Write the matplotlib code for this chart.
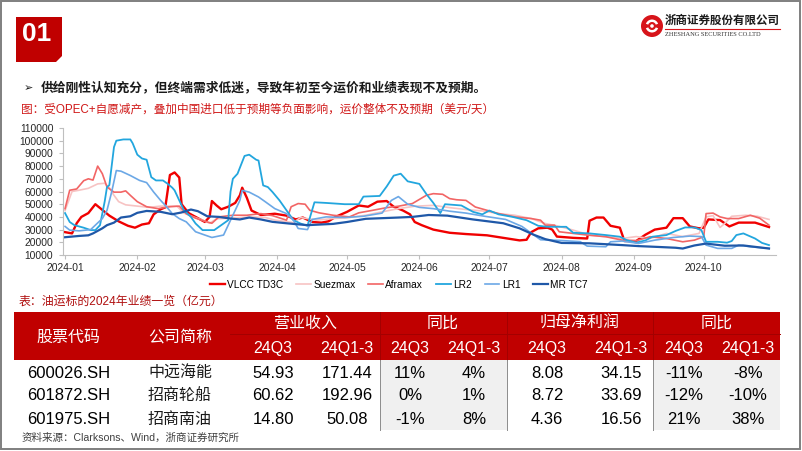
import numpy as np
import pandas as pd
import matplotlib
matplotlib.use('Agg')
import matplotlib.pyplot as plt
from matplotlib.patches import Rectangle, Polygon, Circle, Wedge

plt.rcParams['font.family'] = ['Liberation Sans', 'Noto Sans CJK SC', 'DejaVu Sans']

# ---------------- data (day offset from 2024-01-01, USD/day) ----------------
vlcc_day = [0, 3, 5, 7, 10, 13, 16, 19, 23, 27, 30, 33, 36, 38, 41, 43, 45, 47, 49, 50, 53, 57, 60, 62, 63, 65, 67, 70,
            73, 75, 76, 78, 80, 84, 90, 95, 99, 102, 106, 110, 113, 116, 121, 126, 130, 134, 138, 141, 145, 148, 150,
            153, 158, 165, 172, 181, 188, 195, 198, 200, 203, 207, 209, 211, 218, 224, 225, 228, 231, 234, 238, 240,
            245, 249, 253, 258, 261, 265, 268, 272, 274, 276, 281, 285, 289, 296, 302]
vlcc = [28000, 27000, 35000, 40000, 43000, 50000, 45500, 41000, 36500, 33000, 31500, 34000, 35000, 42000, 46000,
        47500, 73000, 75000, 71000, 50000, 43000, 39000, 36000, 40000, 52500, 49000, 46000, 48000, 51000, 57000,
        63000, 55000, 45000, 41500, 42500, 41000, 38000, 39500, 36000, 35500, 36500, 40000, 44000, 49000, 48000,
        52000, 52500, 48000, 45000, 42000, 36000, 33500, 30000, 27500, 26500, 25500, 23500, 21500, 22000, 28000,
        31000, 31500, 30000, 24500, 23500, 23000, 37000, 39500, 39500, 33000, 31500, 21000, 21000, 26000, 30000,
        31500, 39000, 39000, 32500, 31000, 31500, 38000, 37500, 32500, 35500, 35500, 32000]

suez_day = [0, 3, 6, 10, 14, 17, 19, 21, 23, 26, 31, 36, 41, 48, 51, 55, 59, 62, 65, 72, 80, 86, 90, 98, 101, 108,
            115, 122, 129, 136, 143, 150, 158, 165, 172, 179, 186, 193, 200, 206, 211, 218, 225, 232, 239, 245, 251,
            258, 265, 272, 275, 278, 281, 283, 286, 292, 297, 302]
suez = [45000, 60000, 61000, 62500, 66000, 66500, 63000, 57000, 52000, 49500, 48500, 47500, 48500, 48500, 43000,
        40000, 37500, 35000, 38500, 39000, 40000, 39500, 37500, 35500, 39500, 37500, 38700, 39500, 41300, 44000,
        46500, 48400, 49100, 47300, 45800, 44700, 42600, 41300, 38700, 34800, 33000, 29600, 25700, 24400, 23000,
        24500, 23000, 27000, 24500, 27000, 40000, 41000, 31700, 34800, 40500, 41300, 40500, 38000]

afra_day = [0, 2, 5, 8, 10, 12, 14, 16, 18, 21, 24, 26, 28, 31, 35, 40, 45, 49, 52, 56, 61, 63, 66, 72, 78, 84, 89,
            95, 97, 100, 103, 105, 109, 115, 122, 126, 132, 138, 143, 149, 155, 158, 162, 165, 168, 172, 176, 181,
            186, 193, 200, 204, 206, 210, 212, 218, 224, 232, 239, 245, 251, 258, 265, 270, 274, 275, 278, 281, 284,
            289, 294, 298, 302]
afra = [46500, 61000, 62000, 68500, 70000, 69000, 80000, 74000, 63500, 59500, 59500, 60500, 57000, 52000, 48000,
        46500, 48000, 48500, 42500, 39000, 36000, 35000, 40000, 41300, 41300, 42600, 41000, 37400, 48000, 50500,
        50000, 45200, 43200, 41300, 40000, 43200, 45200, 47300, 48400, 50500, 57000, 58300, 57800, 54400, 53500,
        53000, 47800, 45200, 42600, 40000, 38700, 37400, 33500, 33500, 28300, 27000, 25700, 24400, 21700, 21200,
        24400, 23000, 20400, 21700, 24400, 42600, 43000, 40000, 38700, 38700, 41300, 39000, 33500]

lr2_day = [0, 2, 4, 8, 11, 13, 15, 17, 18, 19, 21, 22, 25, 28, 29, 31, 33, 35, 37, 39, 42, 44, 46, 47, 49, 51, 54,
           56, 59, 64, 66, 68, 70, 71, 72, 74, 77, 79, 82, 83, 85, 87, 89, 92, 95, 98, 101, 104, 107, 112, 120, 126,
           128, 135, 138, 141, 144, 147, 152, 155, 158, 161, 163, 170, 175, 179, 182, 186, 192, 198, 203, 207, 215,
           218, 225, 232, 238, 241, 245, 249, 252, 258, 262, 266, 270, 273, 275, 280, 284, 286, 288, 291, 296, 299,
           302]
lr2 = [43000, 36000, 33500, 31500, 29600, 29600, 33500, 52000, 63500, 65000, 95000, 100000, 101000, 101000, 98000,
       89000, 86000, 85000, 71300, 68700, 68700, 66100, 63000, 60900, 53000, 45200, 40000, 34800, 29600, 29600,
       32200, 34800, 37400, 60000, 70000, 74000, 88000, 89000, 85000, 84400, 64800, 63500, 59600, 53000, 45200,
       37400, 34800, 33000, 51500, 51000, 50000, 50000, 56000, 56500, 64000, 72500, 74000, 68000, 66000, 58000,
       51000, 43000, 50000, 49000, 44000, 42000, 45000, 42000, 40000, 37400, 33000, 32200, 32200, 27500, 27000,
       25700, 24400, 21700, 19700, 21500, 24400, 25700, 29000, 31700, 31700, 29600, 20400, 20400, 19700, 21000,
       25700, 27000, 23000, 19500, 17800]

lr1_day = [0, 2, 6, 11, 13, 16, 18, 20, 22, 24, 28, 32, 35, 38, 41, 43, 46, 49, 52, 56, 60, 63, 68, 69, 71, 75, 76,
           79, 83, 86, 90, 95, 98, 100, 104, 106, 112, 120, 128, 136, 140, 143, 147, 152, 158, 165, 172, 180, 189,
           196, 204, 212, 221, 224, 232, 234, 239, 246, 253, 261, 268, 273, 275, 280, 286, 289, 294, 302]
lr1 = [32500, 29600, 29000, 30000, 33500, 38700, 45200, 59600, 76500, 76000, 72600, 68700, 67000, 59600, 53000,
       49100, 42600, 38700, 36100, 28300, 25700, 23800, 25700, 29600, 37400, 53000, 60900, 59500, 55700, 51800,
       46500, 42600, 37400, 30900, 30000, 38000, 40000, 39500, 40500, 43000, 53000, 56000, 50000, 47500, 46500,
       44500, 43000, 40500, 38000, 32500, 22000, 21500, 20500, 17000, 16500, 20400, 21000, 19100, 21700, 23800,
       24900, 24500, 17800, 15200, 15200, 17800, 16500, 15200]

mr_day = [0, 6, 10, 12, 14, 16, 18, 21, 24, 28, 31, 35, 41, 46, 50, 54, 57, 61, 66, 71, 75, 79, 84, 89, 96, 104,
          115, 121, 129, 143, 149, 156, 164, 175, 188, 195, 201, 206, 213, 225, 239, 246, 255, 262, 265, 270, 275,
          283, 291, 302]
mr = [24000, 25000, 25500, 27000, 29000, 31000, 33500, 35500, 39500, 40500, 43200, 44700, 44000, 42100, 43500,
      45800, 44500, 40500, 40000, 38700, 38000, 39500, 38000, 36100, 34800, 33500, 34500, 36000, 38500, 39500,
      40000, 41500, 41000, 38000, 35000, 31000, 26000, 22500, 19500, 19200, 17800, 17000, 16300, 15700, 15100,
      17500, 19000, 17300, 17500, 15100]

series_names = ['VLCC TD3C', 'Suezmax', 'Aframax', 'LR2', 'LR1', 'MR TC7']
series_days = [vlcc_day, suez_day, afra_day, lr2_day, lr1_day, mr_day]
series_vals = [vlcc, suez, afra, lr2, lr1, mr]
series_colors = ['#F00000', '#F7C3C3', '#F26565', '#22A6DE', '#6CA8E6', '#1F58A8']
series_lw = [1.7, 1.2, 1.2, 1.3, 1.2, 1.6]

month_ticks = ['2024-01', '2024-02', '2024-03', '2024-04', '2024-05',
               '2024-06', '2024-07', '2024-08', '2024-09', '2024-10']

# table data
codes = ['600026.SH', '601872.SH', '601975.SH']
names = ['中远海能', '招商轮船', '招商南油']
rev_q3 = [54.93, 60.62, 14.80]
rev_ytd = [171.44, 192.96, 50.08]
rev_yoy_q3 = [11, 0, -1]
rev_yoy_ytd = [4, 1, 8]
np_q3 = [8.08, 8.72, 4.36]
np_ytd = [34.15, 33.69, 16.56]
np_yoy_q3 = [-11, -12, 21]
np_yoy_ytd = [-8, -10, 38]
group_headers = ['营业收入', '同比', '归母净利润', '同比']
sub_headers = ['24Q3', '24Q1-3'] * 4

# ---------------- figure ----------------
W, H = 802, 451
fig = plt.figure(figsize=(W / 100, H / 100), dpi=100)
bg = fig.add_axes([0, 0, 1, 1])
bg.set_xlim(0, W)
bg.set_ylim(H, 0)
bg.axis('off')

# slide border
bg.add_patch(Rectangle((0.8, 0.8), W - 2.6, H - 2.6, fill=False, ec='#7F7F7F', lw=1.4))

# "01" box
bg.add_patch(Polygon([(16, 17), (62, 17), (62, 56), (56, 62), (16, 62)], closed=True, fc='#C00000', ec='none'))
bg.text(37, 34, '01', color='white', fontsize=19, fontweight='bold', ha='center', va='center')

# logo
bg.add_patch(Circle((652, 26), 11, fc='#D7141A', ec='none'))
bg.add_patch(Wedge((652, 26), 6.5, 200, 340, width=2.5, fc='white', ec='none'))
bg.add_patch(Wedge((652, 26), 6.5, 20, 160, width=2.5, fc='white', ec='none'))
bg.add_patch(Circle((652, 26), 1.8, fc='white', ec='none'))
bg.text(665, 20, '浙商证券股份有限公司', fontsize=8.3, fontweight='bold', color='#1a1a1a', ha='left', va='center',
        family=['Noto Sans CJK SC'])
bg.plot([665, 780], [28.5, 28.5], color='#D7141A', lw=0.8)
bg.text(665, 34, 'ZHESHANG SECURITIES CO.LTD', fontsize=4.6, color='#333333', ha='left', va='center',
        family=['Liberation Serif'])

# bullet line
bg.text(24, 88, '➢', fontsize=8, color='#1a1a1a', ha='left', va='center', family=['DejaVu Sans'])
bg.text(41, 88, '供给刚性认知充分，但终端需求低迷，导致年初至今运价和业绩表现不及预期。',
        fontsize=9.2, fontweight='bold', color='#1a1a1a', ha='left', va='center')
bg.text(21, 110, '图：受OPEC+自愿减产，叠加中国进口低于预期等负面影响，运价整体不及预期（美元/天）',
        fontsize=8.4, color='#D01818', ha='left', va='center')

# ---------------- chart ----------------
ax = fig.add_axes([63 / W, 1 - 255 / H, 713 / W, 127 / H])
start = pd.Timestamp('2024-01-01')
handles = []
for nm, dd, vv, cc, lw in zip(series_names, series_days, series_vals, series_colors, series_lw):
    x = start + pd.to_timedelta(dd, unit='D')
    h, = ax.plot(x, vv, color=cc, lw=lw, label=nm, solid_joinstyle='round')
    handles.append(h)

ax.set_xlim(start - pd.Timedelta(hours=21), start + pd.Timedelta(days=305))
ax.set_ylim(10000, 110000)
ax.set_yticks(np.arange(10000, 110001, 10000))
ax.set_yticklabels([str(v) for v in range(10000, 110001, 10000)])
ax.set_xticks(pd.to_datetime([m + '-01' for m in month_ticks]))
ax.set_xticklabels(month_ticks)
for s in ['top', 'right']:
    ax.spines[s].set_visible(False)
for s in ['left', 'bottom']:
    ax.spines[s].set_color('#BFBFBF')
    ax.spines[s].set_linewidth(0.8)
ax.tick_params(axis='both', colors='#BFBFBF', length=3, width=0.8, labelsize=7.4, labelcolor='#262626')
ax.tick_params(axis='y', pad=4)
ax.tick_params(axis='x', pad=3)
ax.patch.set_alpha(0)

leg = ax.legend(handles=handles, loc='center', bbox_to_anchor=(399 / W, 1 - 285 / H),
                bbox_transform=fig.transFigure, ncol=6, frameon=False, fontsize=7.3,
                handlelength=1.45, handletextpad=0.25, columnspacing=1.25)

# ---------------- table ----------------
bg.text(19, 302, '表：油运标的2024年业绩一览（亿元）', fontsize=8.6, color='#B01010', ha='left', va='center')

tx0, tx1 = 14, 780
hy0, hy1, hmid = 312, 360, 334
ty1 = 430
bg.add_patch(Rectangle((tx0, hy0), tx1 - tx0, hy1 - hy0, fc='#C00000', ec='none'))
# shaded yoy columns
bg.add_patch(Rectangle((380, hy1), 507 - 380, ty1 - hy1, fc='#F0F0F0', ec='none'))
bg.add_patch(Rectangle((653, hy1), tx1 - 653, ty1 - hy1, fc='#F0F0F0', ec='none'))
# dividers
bg.plot([230, tx1], [hmid, hmid], color='#A30000', lw=0.7)
for xv in [380, 507, 653]:
    bg.plot([xv, xv], [hy0, hy1], color='#A30000', lw=0.7)
    bg.plot([xv, xv], [hy1, ty1], color='#8C8C8C', lw=0.7)

bg.text(68, 337, '股票代码', fontsize=11.5, color='white', ha='center', va='center')
bg.text(180, 337, '公司简称', fontsize=11.5, color='white', ha='center', va='center')
group_x = [305, 443, 580, 717]
for gx, gt in zip(group_x, group_headers):
    bg.text(gx, 323, gt, fontsize=11.5, color='white', ha='center', va='center')
col_x = [273, 347, 410, 474, 547, 621, 684, 748]
for cx, st in zip(col_x, sub_headers):
    bg.text(cx, 348, st, fontsize=11.5, color='white', ha='center', va='center')

row_y = [373, 396, 419]
cols = [
    ['{:.2f}'.format(v) for v in rev_q3],
    ['{:.2f}'.format(v) for v in rev_ytd],
    ['{}%'.format(v) for v in rev_yoy_q3],
    ['{}%'.format(v) for v in rev_yoy_ytd],
    ['{:.2f}'.format(v) for v in np_q3],
    ['{:.2f}'.format(v) for v in np_ytd],
    ['{}%'.format(v) for v in np_yoy_q3],
    ['{}%'.format(v) for v in np_yoy_ytd],
]
for i, ry in enumerate(row_y):
    bg.text(27, ry, codes[i], fontsize=12, color='black', ha='left', va='center')
    bg.text(180, ry, names[i], fontsize=11.5, color='#1a1a1a', ha='center', va='center')
    for cx, col in zip(col_x, cols):
        bg.text(cx, ry, col[i], fontsize=12, color='black', ha='center', va='center')

bg.text(22, 438, '资料来源：Clarksons、Wind，浙商证券研究所', fontsize=7.6, color='#404040', ha='left', va='center')

fig.savefig('out.png', dpi=100)
